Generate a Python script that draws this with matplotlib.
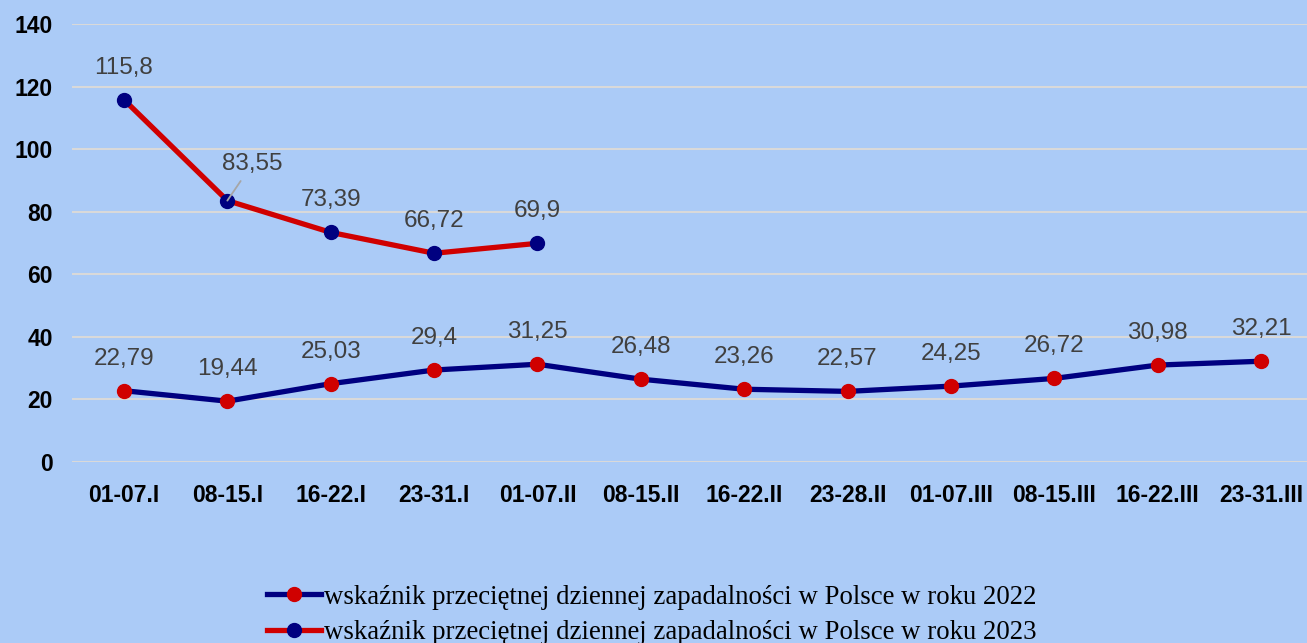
import matplotlib
matplotlib.use("Agg")
import matplotlib.pyplot as plt
from matplotlib.lines import Line2D

categories = ["01-07.I", "08-15.I", "16-22.I", "23-31.I", "01-07.II", "08-15.II",
              "16-22.II", "23-28.II", "01-07.III", "08-15.III", "16-22.III", "23-31.III"]
values_2022 = [22.79, 19.44, 25.03, 29.4, 31.25, 26.48, 23.26, 22.57, 24.25, 26.72, 30.98, 32.21]
values_2023 = [115.8, 83.55, 73.39, 66.72, 69.9]
labels_2022 = ["22,79", "19,44", "25,03", "29,4", "31,25", "26,48", "23,26", "22,57",
               "24,25", "26,72", "30,98", "32,21"]
labels_2023 = ["115,8", "83,55", "73,39", "66,72", "69,9"]
legend_labels = ["wskaźnik przeciętnej dziennej zapadalności w Polsce w roku 2022",
                 "wskaźnik przeciętnej dziennej zapadalności w Polsce w roku 2023"]
yticks = [0, 20, 40, 60, 80, 100, 120, 140]

BG = "#ABCBF7"
NAVY = "#000080"
RED = "#D00000"
GRID = "#D9D9D9"
LBL = "#404040"

W, H = 1307, 643
fig = plt.figure(figsize=(W / 100, H / 100), dpi=100, facecolor=BG)
left = 72.3 / W
right = 1312.7 / W
bottom = (H - 462) / H
top = (H - 24) / H
ax = fig.add_axes([left, bottom, right - left, top - bottom], facecolor=BG)

x22 = list(range(len(categories)))
x23 = list(range(len(values_2023)))

TICK_FS = 16.5
LBL_FS = 17.5

ax.set_xlim(-0.5, len(categories) - 0.5)
ax.set_ylim(0, 140)
ax.set_yticks(yticks)
ax.yaxis.grid(True, color=GRID, linewidth=1.5)
ax.set_axisbelow(True)
for s in ax.spines.values():
    s.set_visible(False)
ax.tick_params(axis="both", length=0)
ax.tick_params(axis="y", pad=14)
ax.tick_params(axis="x", pad=16)
ax.set_xticks(x22)
ax.set_xticklabels(categories, fontsize=TICK_FS, fontweight="bold", family="Liberation Sans")
for t in ax.get_yticklabels():
    t.set_fontsize(TICK_FS)
    t.set_fontweight("bold")
    t.set_family("Liberation Sans")

ax.plot(x22, values_2022, color=NAVY, linewidth=3.8, marker="o", markersize=10,
        markerfacecolor=RED, markeredgecolor=RED, zorder=3, clip_on=False)
ax.plot(x23, values_2023, color=RED, linewidth=3.8, marker="o", markersize=10,
        markerfacecolor=NAVY, markeredgecolor=NAVY, zorder=4, clip_on=False)

for xi, v, lab in zip(x22, values_2022, labels_2022):
    ax.annotate(lab, (xi, v), xytext=(0, 23), textcoords="offset points",
                ha="center", va="center", fontsize=LBL_FS, color=LBL, family="Liberation Sans")
for i, (xi, v, lab) in enumerate(zip(x23, values_2023, labels_2023)):
    if i == 1:
        ax.annotate(lab, (xi, v), xytext=(18, 26.5), textcoords="offset points",
                    ha="center", va="center", fontsize=LBL_FS, color=LBL, family="Liberation Sans",
                    zorder=6,
                    arrowprops=dict(arrowstyle="-", color="#A6A6A6", lw=1.3,
                                    shrinkA=3, shrinkB=0))
    else:
        ax.annotate(lab, (xi, v), xytext=(0, 23), textcoords="offset points",
                    ha="center", va="center", fontsize=LBL_FS, color=LBL, family="Liberation Sans")

handles = [
    Line2D([0], [0], color=NAVY, linewidth=3.8, marker="o", markersize=10,
           markerfacecolor=RED, markeredgecolor=RED),
    Line2D([0], [0], color=RED, linewidth=3.8, marker="o", markersize=10,
           markerfacecolor=NAVY, markeredgecolor=NAVY),
]
leg = fig.legend(handles, legend_labels, loc="center", bbox_to_anchor=(652 / W, 1 - 615 / H),
                 frameon=False, prop={"family": "Liberation Serif", "size": 19.3},
                 handlelength=2.0, handletextpad=0.12, labelspacing=0.4)

fig.savefig("out.png", dpi=100, facecolor=BG)
